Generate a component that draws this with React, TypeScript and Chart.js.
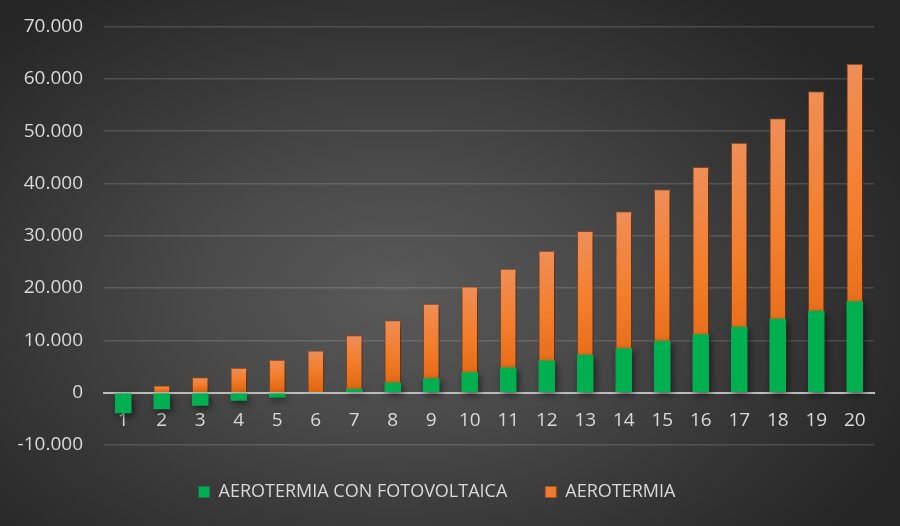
import React, { useEffect, useRef } from "react";
import { Chart, registerables } from "chart.js";

Chart.register(...registerables);

const categories = ["1", "2", "3", "4", "5", "6", "7", "8", "9", "10", "11", "12", "13", "14", "15", "16", "17", "18", "19", "20"];
const fotovoltaica = [-3920, -3150, -2520, -1560, -920, -100, 730, 1950, 2770, 3920, 4820, 6160, 7230, 8510, 9910, 11190, 12590, 14110, 15640, 17500];
const aerotermia = [0, 1380, 2960, 4750, 6280, 8060, 11000, 13860, 16980, 20300, 23670, 27150, 30900, 34670, 38880, 43150, 47800, 52450, 57610, 62900];
const seriesNames = ["AEROTERMIA CON FOTOVOLTAICA", "AEROTERMIA"];
const yMin = -10000;
const yMax = 70000;
const yStep = 10000;

const GREEN = "#00b050";
const ORANGE = "#f07a2e";
const TEXT = "#d9d9d9";
const FONT = "'Open Sans', 'Noto Sans', sans-serif";

function fmt(v: number): string {
  const s = Math.abs(v).toString().replace(/\B(?=(\d{3})+(?!\d))/g, ".");
  return (v < 0 ? "-" : "") + s;
}

const shadowPlugin = {
  id: "barShadow",
  beforeDatasetsDraw(chart: any) {
    const ctx = chart.ctx;
    ctx.save();
    ctx.shadowColor = "rgba(0,0,0,0.55)";
    ctx.shadowBlur = 7;
    ctx.shadowOffsetX = 2;
    ctx.shadowOffsetY = 3;
  },
  afterDatasetsDraw(chart: any) {
    chart.ctx.restore();
  },
};

export default function App() {
  const ref = useRef<HTMLCanvasElement | null>(null);

  useEffect(() => {
    document.body.style.margin = "0";
    if (!ref.current) return;
    const orangeFill = (c: any) => {
      const chart = c.chart;
      if (c.type !== "data" || !chart.chartArea || !chart.scales.y) return ORANGE;
      const y = chart.scales.y;
      const y0 = y.getPixelForValue(0);
      const y1 = y.getPixelForValue(c.raw);
      if (!isFinite(y0) || !isFinite(y1) || Math.abs(y0 - y1) < 1) return ORANGE;
      const g = chart.ctx.createLinearGradient(0, y1, 0, y0);
      g.addColorStop(0, "#ef8e58");
      g.addColorStop(0.45, "#f37e2c");
      g.addColorStop(1, "#df630e");
      return g;
    };
    const chart = new Chart(ref.current, {
      type: "bar",
      data: {
        labels: categories,
        datasets: [
          {
            label: seriesNames[0],
            data: fotovoltaica,
            backgroundColor: GREEN,
            borderWidth: 0,
            barPercentage: 0.43,
            categoryPercentage: 1,
          },
          {
            label: seriesNames[1],
            data: aerotermia,
            backgroundColor: orangeFill,
            borderColor: "rgba(170,80,25,0.75)",
            borderWidth: 1,
            barPercentage: 0.43,
            categoryPercentage: 1,
          },
        ],
      },
      options: {
        animation: false,
        responsive: false,
        layout: { padding: { top: 26.5, right: 26, bottom: 15, left: 0 } },
        plugins: {
          legend: {
            position: "bottom",
            labels: {
              color: TEXT,
              font: { family: FONT, size: 18 },
              boxWidth: 11,
              boxHeight: 11,
              padding: 38,
            },
          },
          tooltip: { enabled: false },
        },
        scales: {
          x: {
            stacked: true,
            position: { y: 0 } as any,
            afterFit: (s: any) => {
              s.height = 0;
            },
            grid: { display: false, drawTicks: false },
            border: { display: true, color: "#bdbdbd", width: 2 },
            ticks: { color: TEXT, font: { family: FONT, size: 19 }, padding: 17 },
          },
          y: {
            stacked: false,
            min: yMin,
            max: yMax,
            afterFit: (s: any) => {
              s.width = 104;
            },
            grid: {
              color: "rgba(200,200,200,0.2)",
              lineWidth: 1.5,
              drawTicks: true,
              tickLength: 7,
              tickColor: "rgba(0,0,0,0)",
            },
            border: { display: false },
            ticks: {
              stepSize: yStep,
              color: TEXT,
              font: { family: FONT, size: 19 },
              padding: 14,
              callback: (v: any) => fmt(Number(v)),
            },
          },
        },
      },
      plugins: [shadowPlugin],
    });
    return () => chart.destroy();
  }, []);

  return (
    <div
      style={{
        width: 900,
        height: 526,
        background:
          "radial-gradient(ellipse 62% 70% at 44% 56%, #595959 0%, #4a4a4a 35%, #363636 70%, #262626 100%)",
      }}
    >
      <canvas ref={ref} width={900} height={526} style={{ display: "block" }} />
    </div>
  );
}
